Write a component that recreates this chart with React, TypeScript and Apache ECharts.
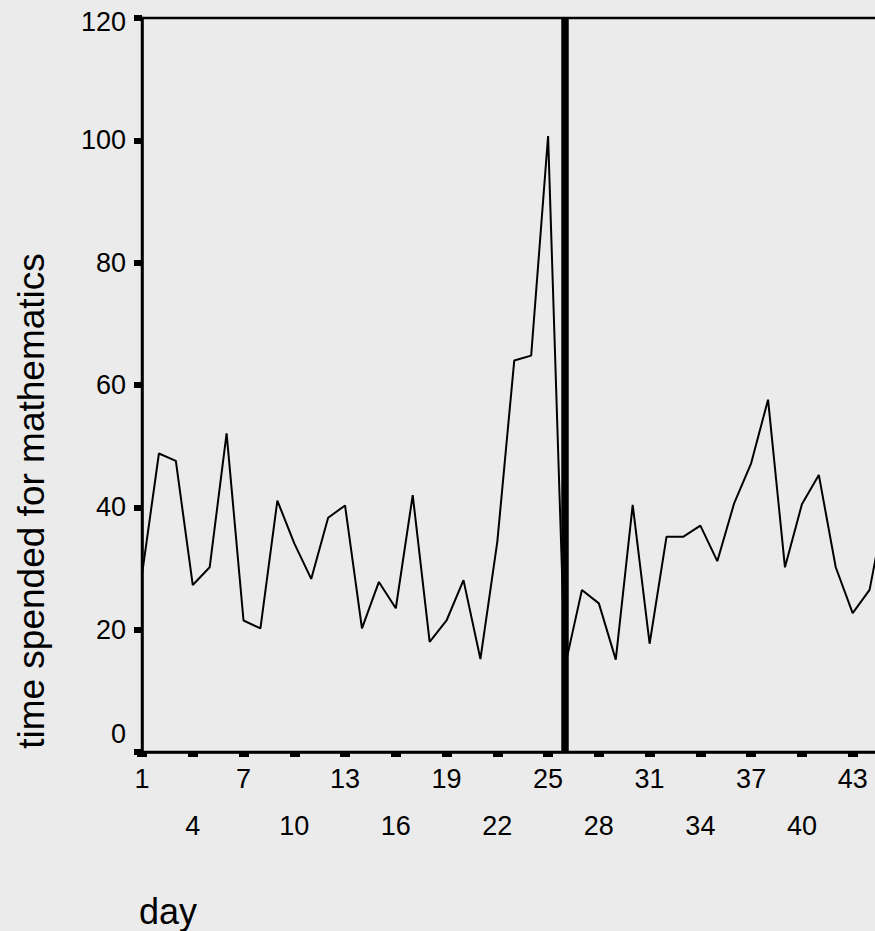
import React, { useEffect, useRef } from "react";
import * as echarts from "echarts";

const days: string[] = [
  "1", "2", "3", "4", "5", "6", "7", "8", "9", "10",
  "11", "12", "13", "14", "15", "16", "17", "18", "19", "20",
  "21", "22", "23", "24", "25", "26", "27", "28", "29", "30",
  "31", "32", "33", "34", "35", "36", "37", "38", "39", "40",
  "41", "42", "43", "44", "45",
];

const minutes: number[] = [
  29, 48.8, 47.6, 27.3, 30.2, 52.1, 21.5, 20.2, 41.1, 34.1,
  28.3, 38.3, 40.3, 20.2, 27.8, 23.5, 42.0, 18.0, 21.5, 28.1,
  15.2, 34.4, 64.0, 64.8, 100.7, 14.0, 26.5, 24.3, 15.1, 40.4,
  17.7, 35.2, 35.2, 37.0, 31.2, 40.7, 47.2, 57.6, 30.2, 40.5,
  45.3, 30.2, 22.7, 26.5, 41.0,
];

const phaseChangeDay = "26";
const yTicks = { min: 0, max: 120, interval: 20 };
const xTitle = "day";
const yTitle = "time spended for mathematics";

const FONT = "'Liberation Sans', Arial, Helvetica, sans-serif";
const BG = "#ebebeb";

export default function App() {
  const ref = useRef<HTMLDivElement>(null);

  useEffect(() => {
    if (!ref.current) return;
    const chart = echarts.init(ref.current, undefined, { renderer: "svg" });
    chart.setOption({
      animation: false,
      backgroundColor: BG,
      grid: {
        show: true,
        left: 142,
        top: 18,
        width: 744.5,
        height: 734,
        backgroundColor: BG,
        borderColor: "#000",
        borderWidth: 2.5,
      },
      xAxis: {
        type: "category",
        data: days,
        boundaryGap: false,
        axisLine: { show: true, lineStyle: { color: "#000", width: 2.5 } },
        axisTick: {
          show: true,
          interval: 2,
          length: 5,
          lineStyle: { color: "#000", width: 10 },
        },
        axisLabel: {
          interval: 2,
          margin: 3,
          color: "#000",
          fontFamily: FONT,
          fontSize: 27,
          lineHeight: 47,
          formatter: (value: string) => {
            const d = Number(value);
            return ((d - 1) / 3) % 2 === 1 ? "\n" + value : value;
          },
        },
        splitLine: { show: false },
      },
      yAxis: {
        type: "value",
        min: yTicks.min,
        max: yTicks.max,
        interval: yTicks.interval,
        axisLine: { show: true, lineStyle: { color: "#000", width: 2.5 } },
        axisTick: {
          show: true,
          length: 8,
          lineStyle: { color: "#000", width: 6 },
        },
        axisLabel: {
          margin: 16,
          color: "#000",
          fontFamily: FONT,
          fontSize: 27,
          formatter: (v: number) => {
            if (v === yTicks.min) return "{zero|" + v + "}";
            if (v === yTicks.max) return "{top|" + v + "}";
            return String(v);
          },
          rich: {
            zero: {
              fontFamily: FONT,
              fontSize: 27,
              color: "#000",
              padding: [0, 0, 36, 0],
            },
            top: {
              fontFamily: FONT,
              fontSize: 27,
              color: "#000",
              padding: [7, 0, 0, 0],
            },
          },
        },
        splitLine: { show: false },
      },
      series: [
        {
          type: "line",
          data: minutes,
          symbol: "none",
          lineStyle: { color: "#000", width: 2 },
          itemStyle: { color: "#000" },
          markLine: {
            silent: true,
            symbol: ["none", "none"],
            label: { show: false },
            lineStyle: { color: "#000", width: 7.5, type: "solid" },
            data: [{ xAxis: phaseChangeDay }],
          },
        },
      ],
      graphic: [
        {
          type: "text",
          x: 31.5,
          y: 501,
          rotation: Math.PI / 2,
          style: {
            text: yTitle,
            fontFamily: FONT,
            fontSize: 37,
            fill: "#000",
            textAlign: "center",
            textVerticalAlign: "middle",
          },
        },
        {
          type: "text",
          x: 139,
          y: 911,
          style: {
            text: xTitle,
            fontFamily: FONT,
            fontSize: 36,
            fill: "#000",
            textAlign: "left",
            textVerticalAlign: "middle",
          },
        },
      ],
    });
    return () => chart.dispose();
  }, []);

  return (
    <div
      style={{
        position: "absolute",
        left: 0,
        top: 0,
        width: 875,
        height: 931,
        overflow: "hidden",
        background: BG,
      }}
    >
      <div ref={ref} style={{ width: 900, height: 931 }} />
    </div>
  );
}
